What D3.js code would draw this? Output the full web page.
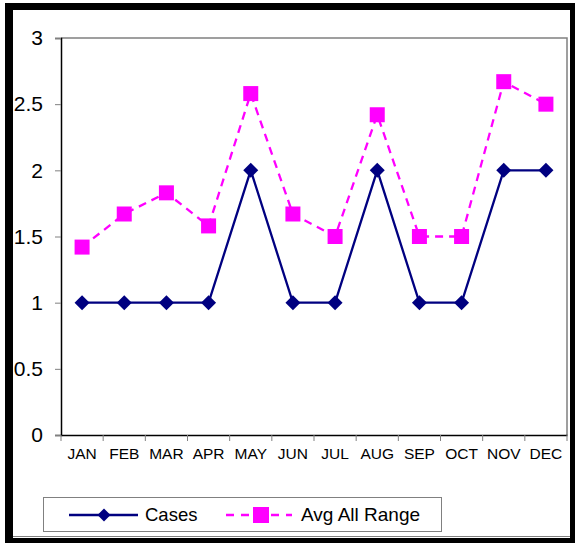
<!DOCTYPE html>
<html><head><meta charset="utf-8">
<script src="https://cdn.jsdelivr.net/npm/d3@7/dist/d3.min.js"></script>
<style>body{margin:0;background:#fff}svg{display:block}text{font-family:Arial,"Liberation Sans",sans-serif}</style>
</head><body>
<svg id="c" width="575" height="543"></svg>
<script>
const months = ["JAN","FEB","MAR","APR","MAY","JUN","JUL","AUG","SEP","OCT","NOV","DEC"];
const cases = [1,1,1,1,2,1,1,2,1,1,2,2];
const avgAllRange = [1.42,1.67,1.83,1.58,2.58,1.67,1.5,2.42,1.5,1.5,2.67,2.5];
const yTicks = [0,0.5,1,1.5,2,2.5,3];
const seriesNames = ["Cases","Avg All Range"];

const svg = d3.select("#c");
const L=61, R=567, T=38, B=435;
const x = d3.scaleBand().domain(months).range([L,R]);
const y = d3.scaleLinear().domain([0,3]).range([B,T]);
const cx = d => x(d)+x.bandwidth()/2;

// frame
svg.append("rect").attr("x",5).attr("y",3).attr("width",8).attr("height",540).attr("fill","#000");
svg.append("rect").attr("x",5).attr("y",3).attr("width",570).attr("height",7).attr("fill","#000");
svg.append("rect").attr("x",570).attr("y",3).attr("width",5).attr("height",540).attr("fill","#000");
svg.append("rect").attr("x",5).attr("y",538).attr("width",570).attr("height",5).attr("fill","#000");
svg.append("line").attr("x1",13).attr("x2",570).attr("y1",536.5).attr("y2",536.5).attr("stroke","#808080").attr("stroke-width",1);

// plot border (top/right gray)
svg.append("path").attr("d",`M${L},${T}H${R}V${B}`).attr("fill","none").attr("stroke","#808080").attr("stroke-width",1.5);

// y axis
const ya = svg.append("g").attr("transform",`translate(${L},0)`)
  .call(d3.axisLeft(y).tickValues(yTicks).tickSize(6).tickPadding(12).tickFormat(d=>String(d)));
ya.select(".domain").attr("stroke","#000").attr("stroke-width",1.5);
ya.selectAll(".tick line").attr("stroke","#808080");
ya.selectAll("text").attr("font-size",21).attr("fill","#000").attr("font-family","Arial, 'Liberation Sans', sans-serif");

// x axis
const xa = svg.append("g").attr("transform",`translate(0,${B})`)
  .call(d3.axisBottom(x).tickSize(0).tickPadding(13));
xa.select(".domain").attr("stroke","#000").attr("stroke-width",1.5);
xa.selectAll("text").attr("font-size",15.5).attr("fill","#000").attr("font-family","Arial, 'Liberation Sans', sans-serif");
// category boundary ticks
const bounds = months.map(m=>x(m)).concat([R]);
svg.append("g").selectAll("line").data(bounds).join("line")
  .attr("x1",d=>d).attr("x2",d=>d).attr("y1",B).attr("y2",B+6)
  .attr("stroke","#808080").attr("stroke-width",1);

// lines
const lineC = d3.line().x((d,i)=>cx(months[i])).y(d=>y(d));
svg.append("path").datum(cases).attr("d",lineC).attr("fill","none").attr("stroke","#000080").attr("stroke-width",2.3);
svg.append("path").datum(avgAllRange).attr("d",lineC).attr("fill","none").attr("stroke","#FF00FF").attr("stroke-width",2.3).attr("stroke-dasharray","8,6");

const diamond = (px,py,r)=>`M${px},${py-r}L${px+r},${py}L${px},${py+r}L${px-r},${py}Z`;
svg.append("g").selectAll("path").data(cases).join("path")
  .attr("d",(d,i)=>diamond(cx(months[i]),y(d),7.5)).attr("fill","#000080");
svg.append("g").selectAll("rect").data(avgAllRange).join("rect")
  .attr("x",(d,i)=>cx(months[i])-7.5).attr("y",d=>y(d)-7.5).attr("width",15).attr("height",15).attr("fill","#FF00FF");

// legend
const lg = svg.append("g");
lg.append("rect").attr("x",43.5).attr("y",497.5).attr("width",398).attr("height",34).attr("fill","#fff").attr("stroke","#808080").attr("stroke-width",1);
const ly=515;
lg.append("line").attr("x1",69).attr("x2",138).attr("y1",ly).attr("y2",ly).attr("stroke","#000080").attr("stroke-width",2.3);
lg.append("path").attr("d",diamond(104,ly,6.5)).attr("fill","#000080");
lg.append("text").attr("x",145).attr("y",521).attr("font-size",18.5).text(seriesNames[0]);
lg.append("line").attr("x1",226).attr("x2",292).attr("y1",ly).attr("y2",ly).attr("stroke","#FF00FF").attr("stroke-width",2.3).attr("stroke-dasharray","8,7");
lg.append("rect").attr("x",253).attr("y",ly-8).attr("width",16).attr("height",16).attr("fill","#FF00FF");
lg.append("text").attr("x",301).attr("y",521).attr("font-size",19).text(seriesNames[1]);
</script>
</body></html>
